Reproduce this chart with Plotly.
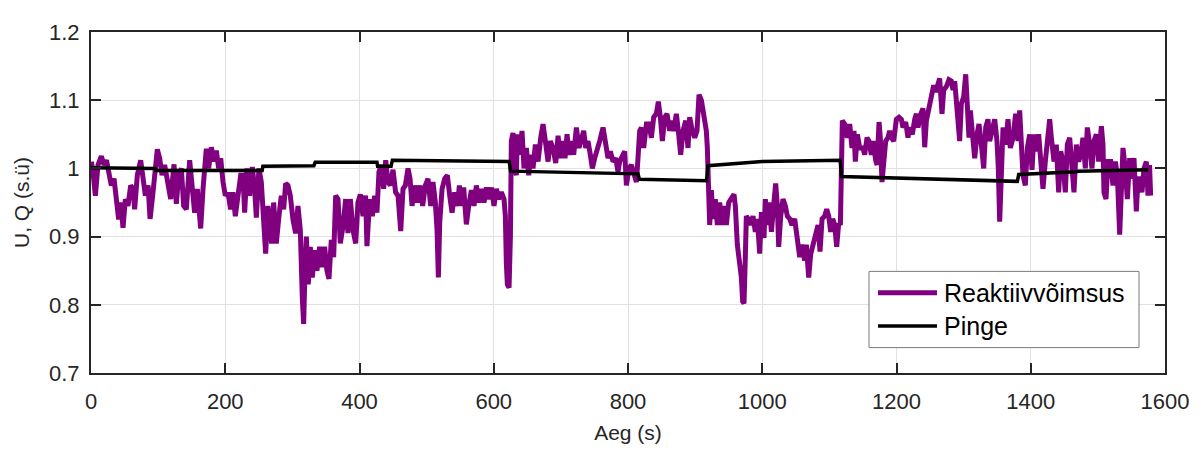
import plotly.graph_objects as go

# Reactive power (Reaktiivvõimsus), time in s and value in p.u.
t_q = [0.5, 3, 6.5, 10.4, 15.4, 19.4, 23, 26.3, 30.3, 34.3, 37.7, 41.2, 44.2, 47.7, 51.2, 55.1, 59.1, 62.6, 65, 69,
       74, 77.5, 81, 85, 88, 92.4, 96, 98.8, 102.3, 105.8, 109.7, 114.7, 118.7, 123.7, 127.1, 130.6, 134.6, 138, 142, 147,
       150.5, 154.4, 158.4, 163.4, 166.9, 171.8, 175.3, 179.3, 183.2, 186.7, 190.2, 193.2, 196.7, 200.1, 204, 208, 211.5, 215, 219, 223,
       226.4, 228.9, 232.4, 236.3, 240.3, 243.8, 246.3, 250.2, 253.7, 257.2, 260.2, 263.6, 267.1, 269.1, 272.1, 276, 280, 283.5, 287, 290,
       293.4, 296.9, 300.9, 304.9, 308.3, 311.8, 314.8, 316.8, 318.8, 320.8, 323.7, 326.7, 329.7, 333.2, 336.6, 340.6, 344.6, 348.1, 351.5, 354.5,
       358, 361.5, 364.5, 368, 371.4, 375.4, 379.4, 382.8, 386.3, 390.3, 394.3, 397.7, 401.2, 405.2, 409.1, 411.1, 415.1, 419.1, 422.6, 426,
       429, 432.5, 436, 439, 442.4, 445.9, 449.9, 453.8, 457.4, 461.4, 464.8, 468.3, 472.3, 475.3, 478.3, 482.2, 486.2, 490.2, 494.1, 498.1,
       502.1, 506.1, 509.5, 513, 515.5, 517.5, 519.5, 523, 527, 530.9, 534.4, 537.9, 541.8, 545.8, 548.8, 551.8, 555.2, 559.2, 562.7, 566.7,
       570.6, 574.1, 577.6, 581.6, 585.5, 589, 592.5, 596.5, 600.4, 603.9, 607.4, 611.3, 615.3, 617.3, 618.8, 620.3, 622.8, 624.8, 626.2, 628.7,
       631.2, 633.7, 635.2, 638.7, 642.1, 645.1, 648.6, 652.1, 655.1, 658.5, 662, 666, 670, 673.4, 676.9, 680.9, 684.3, 688.3, 692.3, 695.8,
       699.2, 703.2, 706.2, 709.2, 712.1, 715.6, 719.1, 723.1, 727, 730.5, 734, 737, 740.4, 743.9, 746.9, 750.4, 753.8, 757.8, 762.8, 766.8,
       770.2, 773.7, 777.7, 781.7, 785.1, 787.6, 791.6, 795.1, 797.6, 801.5, 805, 808.5, 812.5, 814.9, 817.4, 819.9, 823.4, 827.4, 831.3, 834.8,
       838.3, 842.2, 845.2, 848.2, 851.2, 854.7, 858.1, 862.1, 864.6, 868.1, 872, 875, 878.5, 882, 886, 889.4, 891.9, 895.9, 899.4, 902.8,
       905.8, 909.3, 911.8, 914.3, 916.7, 918.2, 920, 921.7, 924.2, 926.7, 930.1, 933.1, 936.6, 940.1, 943, 946.5, 950, 954, 957.9, 959.9,
       962.9, 966.4, 968.9, 970.8, 972.8, 974.8, 976.3, 979.8, 982.8, 986.2, 989.7, 992.7, 996.2, 998.7, 1002.6, 1004.6, 1007.6, 1010.6, 1013.6, 1016.5,
       1020, 1022.5, 1024.5, 1027.5, 1030.9, 1034.4, 1037.4, 1040.9, 1044.3, 1048.3, 1052.3, 1055.8, 1059.2, 1063.2, 1065.7, 1069.2, 1072.1, 1075.6, 1079.1, 1083.1,
       1086.1, 1089.1, 1093, 1096, 1099, 1102, 1104.9, 1107.9, 1110.9, 1113.9, 1116.4, 1117.8, 1119.3, 1122.8, 1126.8, 1130.3, 1133.7, 1136.7, 1138.7, 1141.7,
       1145.2, 1150.1, 1152.6, 1156.1, 1159, 1162.5, 1165, 1169, 1171, 1174, 1175.9, 1178.4, 1180.9, 1183.9, 1187.3, 1189.8, 1192.8, 1195.8, 1199.8, 1203.7,
       1207.2, 1209.7, 1213.7, 1217.1, 1219.6, 1223.6, 1227.1, 1229.6, 1232, 1235.5, 1239.5, 1242, 1244.5, 1248.4, 1251.9, 1255.4, 1258.4, 1261.8, 1264.3, 1267.8,
       1270.3, 1274.3, 1278.2, 1281.7, 1284.2, 1286.7, 1290.1, 1294.1, 1296.6, 1300.1, 1303.1, 1305.1, 1308, 1310, 1314, 1316.5, 1320, 1322.9, 1326.4, 1329.9,
       1332.9, 1336.3, 1338.8, 1342.8, 1346.3, 1349.7, 1351.7, 1353.7, 1356.2, 1358.7, 1362.6, 1366.1, 1369.6, 1373.6, 1377.5, 1381, 1383.5, 1386, 1388.4, 1391.9,
       1394.9, 1398.4, 1401.9, 1404.8, 1408.3, 1411.8, 1414.8, 1418.2, 1421.7, 1424.7, 1428.2, 1430.7, 1434.6, 1438.1, 1441.6, 1444.6, 1448, 1451.5, 1454.5, 1458,
       1461.4, 1464.4, 1467.9, 1471.4, 1474.4, 1477.8, 1481.3, 1484.3, 1487.8, 1491.2, 1494.2, 1497.7, 1501.2, 1505.2, 1507.6, 1509.1, 1512.1, 1515.1, 1519.1, 1522.5,
       1526, 1529, 1532.5, 1535, 1537.4, 1540.9, 1543.9, 1547.4, 1549.8, 1553.8, 1557.3, 1559.8, 1562.3, 1565.7, 1568.7, 1572.2, 1574.7, 1577, 1578.6]

q = [1.010, 0.995, 0.960, 1.005, 1.018, 1.005, 1.012, 0.990, 0.975, 0.985, 0.960, 0.925, 0.950, 0.913, 0.955, 0.945, 0.975, 0.970, 0.940, 0.990,
     1.012, 0.980, 0.960, 0.975, 0.926, 0.965, 1.000, 1.028, 1.015, 0.990, 1.005, 0.975, 0.955, 1.006, 0.948, 0.990, 1.000, 0.945, 0.940, 1.012,
     0.980, 0.935, 0.970, 0.912, 0.970, 1.029, 1.000, 1.031, 1.010, 1.026, 1.000, 1.015, 0.980, 0.960, 0.965, 0.940, 0.965, 0.930, 0.960, 0.990,
     0.990, 0.935, 1.000, 0.960, 1.002, 0.970, 0.928, 1.000, 0.980, 0.930, 0.875, 0.945, 0.910, 0.890, 0.950, 0.890, 0.930, 0.960, 0.940, 0.978,
     0.975, 0.960, 0.925, 0.905, 0.945, 0.910, 0.810, 0.772, 0.850, 0.900, 0.830, 0.885, 0.840, 0.880, 0.850, 0.885, 0.855, 0.885, 0.850, 0.838,
     0.895, 0.870, 0.960, 0.955, 0.890, 0.915, 0.955, 0.905, 0.955, 0.910, 0.890, 0.950, 0.962, 0.930, 0.960, 0.886, 0.955, 0.930, 0.960, 0.935,
     0.995, 1.005, 0.970, 1.012, 0.980, 0.975, 0.998, 0.965, 0.960, 0.908, 0.970, 0.975, 1.000, 0.985, 0.945, 0.975, 0.950, 0.975, 0.945, 0.975,
     0.985, 0.945, 0.980, 0.950, 0.910, 0.840, 0.920, 0.970, 0.985, 0.990, 0.960, 0.935, 0.965, 0.945, 0.975, 0.945, 0.972, 0.918, 0.945, 0.968,
     0.945, 0.975, 0.950, 0.970, 0.950, 0.972, 0.955, 0.972, 0.945, 0.970, 0.955, 0.965, 0.955, 0.930, 0.860, 0.830, 0.825, 0.900, 1.040, 1.052,
     1.000, 0.990, 1.050, 1.020, 1.055, 1.000, 1.030, 0.990, 1.020, 1.000, 1.035, 1.010, 1.045, 1.065, 1.040, 1.010, 1.040, 1.030, 1.008, 1.048,
     1.015, 1.040, 1.015, 1.050, 1.020, 1.040, 1.020, 1.060, 1.030, 1.045, 1.055, 1.030, 1.040, 1.020, 1.000, 1.015, 1.030, 1.040, 1.060, 1.030,
     1.015, 1.025, 1.010, 1.015, 0.995, 1.010, 1.020, 1.025, 0.975, 1.000, 1.005, 0.990, 0.980, 1.015, 1.055, 1.060, 1.030, 1.065, 1.065, 1.045,
     1.075, 1.080, 1.098, 1.075, 1.040, 1.075, 1.080, 1.055, 1.070, 1.055, 1.080, 1.055, 1.020, 1.055, 1.070, 1.030, 1.075, 1.055, 1.045, 1.055,
     1.108, 1.100, 1.085, 1.070, 1.055, 1.030, 0.950, 0.917, 0.968, 0.926, 0.955, 0.917, 0.950, 0.917, 0.945, 0.917, 0.950, 0.955, 0.962, 0.945,
     0.888, 0.860, 0.840, 0.805, 0.802, 0.870, 0.930, 0.925, 0.917, 0.930, 0.907, 0.926, 0.875, 0.936, 0.898, 0.955, 0.917, 0.950, 0.907, 0.940,
     0.978, 0.945, 0.885, 0.930, 0.955, 0.945, 0.930, 0.926, 0.917, 0.926, 0.898, 0.870, 0.888, 0.865, 0.888, 0.840, 0.874, 0.888, 0.900, 0.917,
     0.878, 0.926, 0.930, 0.940, 0.930, 0.907, 0.926, 0.917, 0.885, 0.920, 0.917, 0.985, 1.070, 1.065, 1.045, 1.065, 1.030, 1.055, 1.010, 1.050,
     1.030, 1.030, 1.020, 1.045, 1.040, 1.020, 1.040, 1.012, 1.005, 1.068, 1.045, 0.980, 1.020, 1.040, 1.045, 1.055, 1.045, 1.040, 1.072, 1.075,
     1.072, 1.060, 1.068, 1.045, 1.060, 1.050, 1.072, 1.080, 1.060, 1.078, 1.088, 1.031, 1.070, 1.090, 1.110, 1.122, 1.112, 1.128, 1.132, 1.080,
     1.115, 1.120, 1.130, 1.128, 1.115, 1.128, 1.095, 1.040, 1.095, 1.105, 1.138, 1.080, 1.045, 1.085, 1.045, 1.015, 1.050, 1.065, 1.035, 1.000,
     1.060, 1.072, 1.040, 1.060, 1.072, 1.040, 1.000, 0.922, 1.010, 1.060, 1.035, 1.072, 1.030, 1.045, 1.080, 1.040, 1.085, 1.030, 0.990, 0.975,
     1.030, 1.050, 0.998, 1.050, 1.025, 1.050, 1.010, 0.970, 1.010, 1.045, 1.072, 1.045, 1.010, 1.035, 0.965, 1.025, 1.010, 0.965, 1.035, 1.045,
     1.010, 0.965, 1.035, 1.010, 1.020, 1.045, 1.000, 1.060, 1.035, 1.000, 1.040, 1.050, 1.010, 1.062, 1.035, 0.965, 0.955, 1.010, 1.010, 0.975,
     1.010, 0.990, 0.903, 0.990, 1.030, 0.998, 0.955, 1.015, 0.985, 1.015, 0.937, 0.985, 0.985, 0.965, 1.000, 1.010, 0.960, 1.005, 0.960]

# Voltage (Pinge)
t_u = [0, 96, 97, 255, 256, 332, 334, 426, 427, 447, 449, 623, 625, 815, 817, 917, 919, 1000, 1116, 1118, 1380, 1382, 1468, 1470, 1575]
u = [1.001, 1.000, 0.997, 0.997, 1.003, 1.004, 1.009, 1.009, 1.003, 1.003, 1.012, 1.010, 0.996, 0.992, 0.984, 0.982, 1.004, 1.010, 1.012, 0.988,
     0.981, 0.991, 0.995, 0.996, 0.998]

x_ticks = [0, 200, 400, 600, 800, 1000, 1200, 1400, 1600]
y_ticks = [0.7, 0.8, 0.9, 1.0, 1.1, 1.2]
y_ticktext = ["0.7", "0.8", "0.9", "1", "1.1", "1.2"]

series_names = ["Reaktiivvõimsus", "Pinge"]
series_colors = ["#800080", "black"]
series_widths = [5, 3.5]

fig = go.Figure()
fig.add_trace(go.Scatter(x=t_q, y=q, mode="lines", name=series_names[0], showlegend=False,
                         line=dict(color=series_colors[0], width=series_widths[0])))
fig.add_trace(go.Scatter(x=t_u, y=u, mode="lines", name=series_names[1], showlegend=False,
                         line=dict(color=series_colors[1], width=series_widths[1])))

axis_common = dict(showgrid=True, gridcolor="#e1e1e1", gridwidth=1, showline=True, linecolor="#262626",
                   linewidth=2, mirror="ticks", ticks="inside", ticklen=10, tickwidth=1.5,
                   tickcolor="#262626", zeroline=False, tickfont=dict(size=22, color="#262626"))

fig.update_xaxes(range=[0, 1600], tickvals=x_ticks, ticklabelstandoff=8,
                 title=dict(text="Aeg (s)", font=dict(size=21, color="#262626"), standoff=12),
                 **axis_common)
fig.update_yaxes(range=[0.7, 1.2], tickvals=y_ticks, ticktext=y_ticktext, ticklabelstandoff=5,
                 title=dict(text="U, Q (s.ü)", font=dict(size=21, color="#262626"), standoff=14), **axis_common)

# Legend box (drawn in paper coordinates of the plot area, MATLAB style)
leg_box = dict(x0=0.7244, x1=0.9758, y0=0.0745, y1=0.2980)
leg_rows_y = [0.2350, 0.1375]
leg_line_x = (0.7328, 0.7877)
leg_text_x = 0.7924

shapes = [dict(type="rect", xref="paper", yref="paper", **leg_box,
               line=dict(color="#7a7a7a", width=1), fillcolor="white", layer="above")]
annotations = []
for name, color, width, yy in zip(series_names, series_colors, series_widths, leg_rows_y):
    shapes.append(dict(type="line", xref="paper", yref="paper", x0=leg_line_x[0], x1=leg_line_x[1],
                       y0=yy, y1=yy, line=dict(color=color, width=width), layer="above"))
    annotations.append(dict(text=name, xref="paper", yref="paper", x=leg_text_x, y=yy,
                            xanchor="left", yanchor="middle", showarrow=False,
                            font=dict(size=25, color="black")))

fig.update_layout(
    width=1196, height=446,
    margin=dict(l=83, r=39, t=16, b=81),
    plot_bgcolor="white", paper_bgcolor="white",
    font=dict(family="Liberation Sans, Arial, sans-serif", size=20, color="#262626"),
    showlegend=False,
    shapes=shapes,
    annotations=annotations,
)

fig.write_html("out.html")
